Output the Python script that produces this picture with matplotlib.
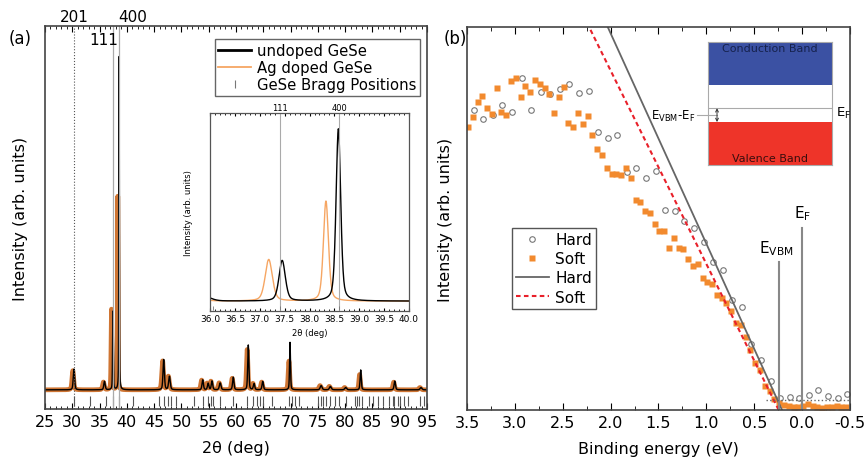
import numpy as np
import matplotlib.pyplot as plt
from matplotlib.lines import Line2D
from matplotlib.ticker import MultipleLocator

# ---------------- (a) XRD: peak list ----------------
# position (deg), height above background, FWHM (deg)
undoped_pos = [30.3, 35.9, 37.45, 38.58, 46.75, 47.8, 53.9, 54.9, 55.6, 57.1,
               59.5, 62.25, 63.3, 64.9, 69.9, 75.6, 77.3, 80.1, 82.85, 89.1, 93.9]
undoped_h = [0.054, 0.022, 0.205, 0.87, 0.079, 0.035, 0.026, 0.017, 0.023, 0.018,
             0.033, 0.117, 0.016, 0.022, 0.124, 0.011, 0.009, 0.006, 0.052, 0.023, 0.006]
undoped_w = [0.3, 0.3, 0.15, 0.11, 0.3, 0.35, 0.3, 0.3, 0.3, 0.35,
             0.3, 0.25, 0.3, 0.3, 0.2, 0.4, 0.4, 0.4, 0.25, 0.3, 0.4]

doped_pos = [30.1, 35.7, 37.18, 38.33, 46.55, 47.6, 53.7, 54.7, 55.4, 56.9,
             59.3, 62.05, 63.1, 64.7, 69.7, 75.4, 77.1, 79.9, 82.65, 88.9, 93.7]
doped_h = [0.05, 0.02, 0.21, 0.505, 0.075, 0.035, 0.025, 0.017, 0.022, 0.018,
           0.03, 0.105, 0.016, 0.02, 0.075, 0.011, 0.009, 0.006, 0.04, 0.02, 0.006]
doped_w = [0.35, 0.35, 0.17, 0.12, 0.35, 0.4, 0.35, 0.35, 0.35, 0.4,
           0.35, 0.3, 0.35, 0.35, 0.3, 0.45, 0.45, 0.45, 0.3, 0.35, 0.45]

background = 0.05

bragg_pos = [30.39, 33.27, 36.09, 37.4, 38.6, 41.11, 45.82, 46.74, 47.48, 48.09,
             49.07, 52.25, 53.97, 54.89, 55.38, 55.8, 57.03, 59.48, 62.05, 63.15,
             63.76, 64.37, 64.93, 66.64, 69.7, 70.19, 70.8, 71.54, 75.03, 75.52,
             76.01, 76.56, 77.17, 78.15, 78.89, 80.11, 81.83, 82.26, 82.57, 83.18,
             84.4, 85.02, 85.94, 86.86, 88.08, 88.69, 89.0, 89.61, 90.1, 90.84,
             91.45, 93.78, 94.39]

hkl_labels = ["201", "111", "400"]
hkl_pos = [30.35, 37.4, 38.5]

# ---------------- (b) valence band edge ----------------
hard_E = np.round(np.arange(3.43, -0.5, -0.1), 2)
hard_I = [0.784, 0.760, 0.770, 0.796, 0.777, 0.868, 0.784, 0.831, 0.824, 0.839,
          0.850, 0.827, 0.833, 0.725, 0.709, 0.717, 0.621, 0.632, 0.607, 0.624,
          0.523, 0.520, 0.493, 0.474, 0.438, 0.387, 0.365, 0.288, 0.268, 0.172,
          0.131, 0.077, 0.031, 0.034, 0.031, 0.039, 0.052, 0.036, 0.031, 0.041]
soft_E = np.round(np.arange(3.49, -0.5, -0.05), 2)
soft_I = [0.740, 0.766, 0.804, 0.821, 0.789, 0.773, 0.842, 0.777, 0.770, 0.860,
          0.868, 0.817, 0.845, 0.830, 0.862, 0.851, 0.841, 0.824, 0.775, 0.817,
          0.843, 0.749, 0.740, 0.776, 0.747, 0.768, 0.717, 0.681, 0.665, 0.631,
          0.617, 0.617, 0.614, 0.632, 0.607, 0.549, 0.544,
          0.520, 0.514, 0.485, 0.467, 0.468, 0.423, 0.449, 0.422, 0.420, 0.394,
          0.376, 0.380, 0.345, 0.333, 0.330, 0.301, 0.292, 0.280, 0.259, 0.227,
          0.221, 0.190, 0.157, 0.124, 0.104, 0.063, 0.049, 0.028, 0.019, 0.014,
          0.011, 0.008, 0.008, 0.010, 0.015, 0.011, 0.008, 0.005, 0.008, 0.008,
          0.011, 0.008, 0.008]

hard_fit_E = [0.21, 2.03]
soft_fit_E = [0.245, 2.225]
fit_I = [0.0, 1.0]

E_vbm = 0.24
E_f = 0.0


def pattern(x, pos, h, w):
    y = np.full_like(x, background)
    for p, a, fw in zip(pos, h, w):
        g = np.exp(-4 * np.log(2) * ((x - p) / fw) ** 2)
        l = 1 / (1 + 4 * ((x - p) / fw) ** 2)
        y += a * (0.6 * g + 0.4 * l)
    return y


plt.rcParams['font.family'] = 'DejaVu Sans'
fig = plt.figure(figsize=(8.64, 4.6), dpi=100)

orange_thick = '#cf7533'
orange_thin = '#f6a663'
spine_c = '#444444'

# ================= panel (a) =================
ax = fig.add_axes([0.0521, 0.1087, 0.4421, 0.8326])
tt = np.arange(25, 95.001, 0.01)
ax.plot(tt, pattern(tt, doped_pos, doped_h, doped_w), color=orange_thick, lw=3.4)
ax.plot(tt, pattern(tt, undoped_pos, undoped_h, undoped_w), color='black', lw=1.0)
ax.plot(bragg_pos, [0.021] * len(bragg_pos), ls='none', marker='|', ms=7,
        mew=0.8, color='#555555')
ax.axvline(hkl_pos[0], color='#555555', lw=0.8, ls=':')
ax.axvline(hkl_pos[1], color='#aaaaaa', lw=0.9)
ax.axvline(hkl_pos[2], color='#aaaaaa', lw=0.9)
ax.text(hkl_pos[0], 1.005, hkl_labels[0], ha='center', va='bottom', fontsize=11)
ax.text(hkl_pos[2] - 0.1, 0.985, hkl_labels[1], ha='right', va='top', fontsize=11)
ax.text(hkl_pos[2], 1.005, hkl_labels[2], ha='left', va='bottom', fontsize=11)

ax.set_xlim(25, 95)
ax.set_ylim(0, 1)
ax.xaxis.set_major_locator(MultipleLocator(5))
ax.xaxis.set_minor_locator(MultipleLocator(1))
ax.tick_params(axis='x', which='both', direction='in', top=True, labelsize=11.5)
ax.tick_params(axis='x', which='major', length=4)
ax.tick_params(axis='x', which='minor', length=2)
ax.tick_params(axis='y', left=False, labelleft=False)
ax.set_xlabel('2θ (deg)', fontsize=11.5, labelpad=8)
ax.set_ylabel('Intensity (arb. units)', fontsize=11.5, labelpad=12)
for s in ax.spines.values():
    s.set_color(spine_c)
    s.set_linewidth(1.2)

handles = [Line2D([], [], color='black', lw=2),
           Line2D([], [], color=orange_thin, lw=1.3),
           Line2D([], [], color='#777777', ls='none', marker='|', ms=6, mew=0.8)]
leg = ax.legend(handles, ['undoped GeSe', 'Ag doped GeSe', 'GeSe Bragg Positions'],
                loc='upper right', bbox_to_anchor=(0.982, 0.966), borderaxespad=0,
                fontsize=10.7, fancybox=False, framealpha=1, handlelength=2.2,
                labelspacing=0.15, borderpad=0.25, handletextpad=0.4)
leg.get_frame().set_edgecolor('#666666')

fig.text(0.01, 0.905, '(a)', fontsize=12)

# ---- inset of (a)
ai = fig.add_axes([0.2431, 0.3217, 0.2303, 0.4304])
ti = np.arange(36, 40.001, 0.005)
ai.plot(ti, pattern(ti, doped_pos, doped_h, doped_w), color=orange_thin, lw=1.0)
ai.plot(ti, pattern(ti, undoped_pos, undoped_h, undoped_w), color='black', lw=1.0)
ai.axvline(37.4, color='#aaaaaa', lw=0.8)
ai.axvline(38.6, color='#aaaaaa', lw=0.8)
ai.plot([36.05, 37.4, 38.6], [0.015] * 3, ls='none', marker='|', ms=3, mew=0.6,
        color='#777777')
ai.text(37.4, 1.005, '111', ha='center', va='bottom', fontsize=6)
ai.text(38.6, 1.005, '400', ha='center', va='bottom', fontsize=6)
ai.set_xlim(36, 40)
ai.set_ylim(0, 1)
ai.xaxis.set_major_locator(MultipleLocator(0.5))
ai.xaxis.set_minor_locator(MultipleLocator(0.1))
ai.xaxis.set_major_formatter(plt.FormatStrFormatter('%.1f'))
ai.tick_params(axis='x', which='both', direction='in', top=True, labelsize=6.5, pad=2)
ai.tick_params(axis='x', which='major', length=2.5)
ai.tick_params(axis='x', which='minor', length=1.5)
ai.tick_params(axis='y', left=False, labelleft=False)
ai.set_xlabel('2θ (deg)', fontsize=6, labelpad=4)
ai.set_ylabel('Intensity (arb. units)', fontsize=6, labelpad=12)
for s in ai.spines.values():
    s.set_color('#555555')
    s.set_linewidth(0.9)

# ================= panel (b) =================
bx = fig.add_axes([0.5405, 0.1065, 0.4433, 0.8326])
bx.plot(hard_E, hard_I, ls='none', marker='o', ms=4, mfc='none', mec='#777777',
        mew=0.8, label='Hard')
bx.plot(soft_E, soft_I, ls='none', marker='s', ms=4, color='#f28a2e', mec='none',
        label='Soft')
bx.plot(hard_fit_E, fit_I, color='#666666', lw=1.3, label='Hard')
bx.plot(soft_fit_E, fit_I, color='#e8202a', lw=1.5, ls=(0, (2.2, 1.6)), label='Soft')
bx.plot([E_vbm, E_vbm], [0, 0.386], color='#888888', lw=1.5)
bx.plot([E_f, E_f], [0, 0.475], color='#888888', lw=1.5)
bx.plot([0.38, -0.5], [0.026, 0.026], color='#666666', lw=1.0, ls=':')
bx.text(E_vbm + 0.03, 0.4, '$\\mathregular{E_{VBM}}$', ha='center', va='bottom',
        fontsize=11)
bx.text(E_f, 0.49, '$\\mathregular{E_F}$', ha='center', va='bottom', fontsize=11)

bx.set_xlim(3.5, -0.5)
bx.set_ylim(0, 1)
bx.xaxis.set_major_locator(MultipleLocator(0.5))
bx.xaxis.set_minor_locator(MultipleLocator(0.25))
bx.xaxis.set_major_formatter(plt.FormatStrFormatter('%.1f'))
bx.tick_params(axis='x', which='both', direction='in', top=True, labelsize=11.5)
bx.tick_params(axis='x', which='major', length=5)
bx.tick_params(axis='x', which='minor', length=3)
bx.tick_params(axis='y', left=False, labelleft=False)
bx.set_xlabel('Binding energy (eV)', fontsize=11.5, labelpad=8)
bx.set_ylabel('Intensity (arb. units)', fontsize=11.5, labelpad=10)
for s in bx.spines.values():
    s.set_color(spine_c)
    s.set_linewidth(1.2)

leg2 = bx.legend(loc='upper left', bbox_to_anchor=(0.117, 0.475), borderaxespad=0,
                 fontsize=11, fancybox=False, framealpha=1, handlelength=2.2,
                 labelspacing=0.28, borderpad=0.25, handletextpad=0.4)
leg2.get_frame().set_edgecolor('#555555')

fig.text(0.513, 0.905, '(b)', fontsize=12)

# ---- band diagram inset
bi = fig.add_axes([0.8194, 0.639, 0.1435, 0.267])
bi.axhspan(0.65, 1.0, color='#3b51a3', lw=0)
bi.axhspan(0.0, 0.35, color='#ee3429', lw=0)
bi.axhline(0.463, color='#aaaaaa', lw=0.8)
bi.annotate('', xy=(0.073, 0.35), xytext=(0.073, 0.463),
            arrowprops=dict(arrowstyle='<->', lw=0.7, color='#333333',
                            shrinkA=0, shrinkB=0, mutation_scale=5))
bi.plot([-0.09, 0.073], [0.407, 0.407], color='#aaaaaa', lw=0.8, clip_on=False)
bi.text(-0.1, 0.407, '$\\mathregular{E_{VBM}}$-$\\mathregular{E_F}$', ha='right',
        va='center', fontsize=8.5)
bi.text(1.03, 0.43, '$\\mathregular{E_F}$', ha='left', va='center', fontsize=9.5)
bi.text(0.5, 0.95, 'Conduction Band', ha='center', va='center', fontsize=8,
        color='#16224d')
bi.text(0.5, 0.06, 'Valence Band', ha='center', va='center', fontsize=8,
        color='#3a0d0d')
bi.set_xlim(0, 1)
bi.set_ylim(0, 1)
bi.set_xticks([])
bi.set_yticks([])
for s in bi.spines.values():
    s.set_color('#aaaaaa')
    s.set_linewidth(0.8)

fig.savefig('out.png', dpi=100)
